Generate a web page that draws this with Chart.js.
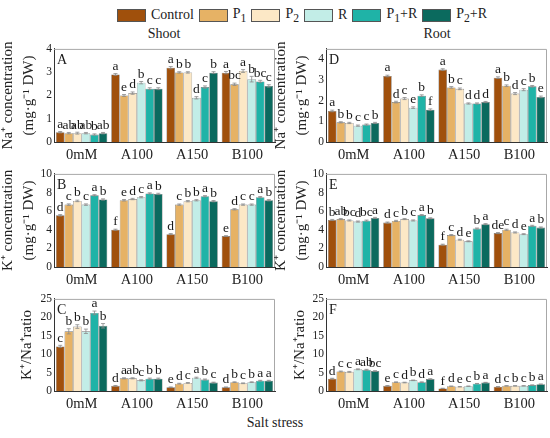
<!DOCTYPE html>
<html>
<head>
<meta charset="utf-8">
<script src="https://cdn.jsdelivr.net/npm/chart.js@4.4.1/dist/chart.umd.min.js"></script>
<style>
    body { margin: 0; background: #fff; font-family: 'Liberation Serif', serif; }
    #wrap { position: relative; width: 550px; height: 438px; overflow: hidden; }
    .panel { position: absolute; }
    .txt { position: absolute; font-size: 14px; color: #222; white-space: nowrap; transform: translateX(-50%); }
    #legend { position: absolute; left: 117px; top: 6px; display: flex; font-size: 14px; color: #222; }
    #legend .item { display: flex; align-items: center; margin-right: 5px; }
    #legend .sw { width: 29px; height: 13px; border: 1px solid #555; box-sizing: border-box; margin-right: 5px; }
</style>
</head>
<body>
<div id="wrap">
    <div id="legend"></div>
    <div class="txt" style="left:164px; top:26px;">Shoot</div>
    <div class="txt" style="left:437px; top:26px;">Root</div>
    <div class="txt" style="left:275px; top:415px;">Salt stress</div>

    <div class="panel" style="left:0; top:40px; width:280px; height:122px;"><canvas id="chartA"></canvas></div>
    <div class="panel" style="left:272px; top:40px; width:278px; height:122px;"><canvas id="chartD"></canvas></div>
    <div class="panel" style="left:0; top:165px; width:280px; height:122px;"><canvas id="chartB"></canvas></div>
    <div class="panel" style="left:272px; top:165px; width:278px; height:122px;"><canvas id="chartE"></canvas></div>
    <div class="panel" style="left:0; top:290px; width:280px; height:121px;"><canvas id="chartC"></canvas></div>
    <div class="panel" style="left:272px; top:290px; width:278px; height:121px;"><canvas id="chartF"></canvas></div>
</div>
<script>
// ---- data ----
const groups = ['0mM', 'A100', 'A150', 'B100'];
const treatments = ['Control', 'P1', 'P2', 'R', 'P1+R', 'P2+R'];
const treatmentLabels = ['Control', 'P<sub>1</sub>', 'P<sub>2</sub>', 'R', 'P<sub>1</sub>+R', 'P<sub>2</sub>+R'];
const colors = ['#a0500c', '#e6b265', '#fce8c6', '#c2ede7', '#1fb3a7', '#0b6a5e'];

// rows = treatments, columns = groups
const naShoot = [
    [0.42, 2.90, 3.19, 2.98],
    [0.38, 2.00, 2.99, 2.48],
    [0.38, 2.10, 2.99, 3.05],
    [0.38, 2.55, 1.90, 2.70],
    [0.32, 2.29, 2.36, 2.60],
    [0.38, 2.29, 2.98, 2.41]
];
const naShootErr = [
    [0.03, 0.04, 0.05, 0.05],
    [0.03, 0.04, 0.03, 0.05],
    [0.04, 0.05, 0.03, 0.06],
    [0.03, 0.05, 0.05, 0.12],
    [0.03, 0.04, 0.05, 0.05],
    [0.03, 0.04, 0.04, 0.05]
];
const naShootLetters = [
    ['a', 'a', 'a', 'a'],
    ['ab', 'e', 'b', 'bc'],
    ['ab', 'd', 'b', 'a'],
    ['ab', 'b', 'd', 'b'],
    ['b', 'c', 'c', 'bc'],
    ['ab', 'c', 'b', 'c']
];

const naRoot = [
    [1.50, 3.19, 3.50, 3.11],
    [0.95, 1.93, 2.64, 2.72],
    [0.92, 2.10, 2.57, 2.34],
    [0.79, 1.66, 1.86, 2.53],
    [0.84, 2.24, 1.86, 2.69],
    [0.92, 1.56, 1.93, 2.18]
];
const naRootErr = [
    [0.04, 0.04, 0.04, 0.04],
    [0.03, 0.04, 0.04, 0.04],
    [0.03, 0.05, 0.04, 0.05],
    [0.03, 0.04, 0.03, 0.05],
    [0.03, 0.04, 0.03, 0.04],
    [0.03, 0.04, 0.03, 0.04]
];
const naRootLetters = [
    ['a', 'a', 'a', 'a'],
    ['b', 'd', 'b', 'b'],
    ['b', 'c', 'c', 'd'],
    ['c', 'e', 'd', 'c'],
    ['c', 'b', 'd', 'b'],
    ['b', 'f', 'd', 'e']
];

const kShoot = [
    [5.55, 4.00, 3.53, 3.32],
    [6.70, 7.17, 6.70, 6.20],
    [7.10, 7.30, 7.07, 6.70],
    [6.70, 7.50, 7.17, 6.70],
    [7.70, 7.90, 7.60, 7.50],
    [7.25, 7.85, 7.07, 7.17]
];
const kShootErr = [
    [0.08, 0.06, 0.06, 0.05],
    [0.08, 0.08, 0.07, 0.07],
    [0.08, 0.07, 0.07, 0.07],
    [0.08, 0.07, 0.07, 0.07],
    [0.07, 0.07, 0.07, 0.07],
    [0.07, 0.07, 0.07, 0.07]
];
const kShootLetters = [
    ['d', 'f', 'd', 'e'],
    ['c', 'e', 'c', 'd'],
    ['b', 'd', 'b', 'c'],
    ['c', 'c', 'b', 'c'],
    ['a', 'a', 'a', 'a'],
    ['b', 'b', 'b', 'b']
];

const kRoot = [
    [5.05, 4.77, 2.40, 3.64],
    [5.15, 4.95, 3.43, 4.00],
    [5.00, 5.15, 2.93, 3.71],
    [4.88, 5.00, 2.76, 3.53],
    [4.98, 5.58, 4.13, 4.42],
    [5.27, 5.23, 4.60, 4.24]
];
const kRootErr = [
    [0.06, 0.06, 0.05, 0.06],
    [0.06, 0.06, 0.06, 0.06],
    [0.06, 0.06, 0.05, 0.06],
    [0.06, 0.06, 0.05, 0.05],
    [0.06, 0.06, 0.06, 0.06],
    [0.06, 0.06, 0.06, 0.06]
];
const kRootLetters = [
    ['b', 'd', 'f', 'de'],
    ['ab', 'c', 'c', 'c'],
    ['bc', 'b', 'd', 'd'],
    ['d', 'c', 'e', 'e'],
    ['bc', 'a', 'b', 'a'],
    ['a', 'b', 'a', 'b']
];

const ratioShoot = [
    [12.1, 1.40, 1.00, 1.00],
    [16.2, 3.45, 2.00, 2.40],
    [17.5, 3.45, 2.20, 2.10],
    [16.2, 2.90, 3.60, 2.40],
    [21.2, 3.35, 3.10, 2.80],
    [17.7, 3.35, 2.30, 2.80]
];
const ratioShootErr = [
    [0.3, 0.10, 0.10, 0.10],
    [0.7, 0.15, 0.10, 0.10],
    [0.5, 0.15, 0.10, 0.10],
    [0.6, 0.15, 0.15, 0.10],
    [0.5, 0.15, 0.15, 0.10],
    [0.6, 0.15, 0.10, 0.10]
];
const ratioShootLetters = [
    ['c', 'd', 'e', 'd'],
    ['b', 'a', 'd', 'b'],
    ['b', 'ab', 'c', 'c'],
    ['b', 'c', 'a', 'b'],
    ['a', 'b', 'b', 'a'],
    ['b', 'b', 'c', 'a']
];

const ratioRoot = [
    [3.35, 1.40, 0.70, 1.15],
    [5.30, 2.40, 1.30, 1.40],
    [5.20, 2.30, 1.15, 1.40],
    [5.90, 2.90, 1.30, 1.40],
    [5.75, 2.40, 2.00, 1.60],
    [5.40, 3.25, 2.30, 1.85]
];
const ratioRootErr = [
    [0.10, 0.08, 0.05, 0.05],
    [0.12, 0.08, 0.05, 0.05],
    [0.12, 0.08, 0.05, 0.05],
    [0.12, 0.08, 0.05, 0.05],
    [0.12, 0.08, 0.05, 0.05],
    [0.12, 0.08, 0.05, 0.05]
];
const ratioRootLetters = [
    ['d', 'e', 'f', 'd'],
    ['c', 'c', 'd', 'c'],
    ['c', 'd', 'e', 'b'],
    ['a', 'b', 'c', 'c'],
    ['ab', 'd', 'b', 'b'],
    ['bc', 'a', 'a', 'a']
];

const naTitle = ['Na\u207A concentration', '(mg\u00B7g\u207B\u00B9 DW)'];
const kTitle = ['K\u207A concentration', '(mg\u00B7g\u207B\u00B9 DW)'];
const ratioTitle = 'K\u207A/Na\u207Aratio';

const FONT = 'Liberation Serif';

// ---- legend ----
const legendEl = document.getElementById('legend');
treatments.forEach((t, i) => {
    const item = document.createElement('div');
    item.className = 'item';
    item.innerHTML = `<span class="sw" style="background:${colors[i]}"></span><span>${treatmentLabels[i]}</span>`;
    legendEl.appendChild(item);
});

// ---- plugins ----
const barExtras = {
    id: 'barExtras',
    afterDatasetsDraw(chart, args, opts) {
        const ctx = chart.ctx;
        const y = chart.scales.y;
        const area = chart.chartArea;
        ctx.save();
        // frame top/right
        ctx.strokeStyle = '#a8a8a8';
        ctx.lineWidth = 1;
        ctx.beginPath();
        ctx.moveTo(area.left, area.top + 0.5);
        ctx.lineTo(area.right - 0.5, area.top + 0.5);
        ctx.lineTo(area.right - 0.5, area.bottom);
        ctx.stroke();

        chart.data.datasets.forEach((ds, i) => {
            const meta = chart.getDatasetMeta(i);
            meta.data.forEach((bar, j) => {
                const v = ds.data[j], e = ds.err[j];
                const yTop = y.getPixelForValue(v + e);
                const yBot = y.getPixelForValue(v - e);
                ctx.strokeStyle = '#8a8a8a';
                ctx.lineWidth = 0.8;
                ctx.beginPath();
                ctx.moveTo(bar.x, yTop); ctx.lineTo(bar.x, yBot);
                ctx.moveTo(bar.x - 2, yTop); ctx.lineTo(bar.x + 2, yTop);
                ctx.moveTo(bar.x - 2, yBot); ctx.lineTo(bar.x + 2, yBot);
                ctx.stroke();
                ctx.fillStyle = '#1a1a1a';
                ctx.font = `13.5px '${FONT}'`;
                ctx.textAlign = 'center';
                ctx.textBaseline = 'bottom';
                ctx.fillText(ds.letters[j], bar.x, yTop - 0.5);
            });
        });

        // panel letter
        ctx.fillStyle = '#1a1a1a';
        ctx.font = `14px '${FONT}'`;
        ctx.textAlign = 'left';
        ctx.textBaseline = 'top';
        ctx.fillText(opts.letter || '', area.left + 3, area.top + 4);
        ctx.restore();
    }
};

function makePanel(id, letter, values, errs, letters, yMax, step, title, titlePad, rightPad) {
    const datasets = treatments.map((t, i) => ({
        label: t,
        data: values[i],
        err: errs[i],
        letters: letters[i],
        backgroundColor: colors[i],
        borderColor: 'rgba(70,70,70,0.75)',
        borderWidth: 0.6,
        categoryPercentage: 0.93,
        barPercentage: 1.0
    }));
    return new Chart(document.getElementById(id), {
        type: 'bar',
        data: { labels: groups, datasets: datasets },
        options: {
            responsive: true,
            maintainAspectRatio: false,
            animation: false,
            layout: { padding: { top: 7, right: rightPad, left: 0, bottom: 0 } },
            plugins: {
                legend: { display: false },
                tooltip: { enabled: false },
                barExtras: { letter: letter }
            },
            scales: {
                x: {
                    grid: { display: false, drawTicks: false },
                    border: { color: '#333', width: 1 },
                    ticks: { font: { family: FONT, size: 14.5 }, color: '#222', padding: 4 },
                    afterFit: (s) => { s.height = 20; }
                },
                y: {
                    min: 0,
                    max: yMax,
                    grid: { display: false, drawTicks: false },
                    border: { color: '#333', width: 1 },
                    ticks: { stepSize: step, includeBounds: false, font: { family: FONT, size: 11.5 }, color: '#222', padding: 2 },
                    title: {
                        display: true,
                        text: title,
                        font: { family: FONT, size: 15, lineHeight: 1.4 },
                        color: '#222',
                        padding: { top: titlePad, bottom: 0 }
                    },
                    afterFit: (s) => { s.width = 54; }
                }
            }
        },
        plugins: [barExtras]
    });
}

makePanel('chartA', 'A', naShoot, naShootErr, naShootLetters, 4, 1, naTitle, -2, 5);
makePanel('chartD', 'D', naRoot, naRootErr, naRootLetters, 4.5, 1, naTitle, -1, 3);
makePanel('chartB', 'B', kShoot, kShootErr, kShootLetters, 10, 2, kTitle, -2, 5);
makePanel('chartE', 'E', kRoot, kRootErr, kRootLetters, 10, 2, kTitle, -1, 3);
makePanel('chartC', 'C', ratioShoot, ratioShootErr, ratioShootLetters, 25, 5, ratioTitle, 17, 5);
makePanel('chartF', 'F', ratioRoot, ratioRootErr, ratioRootLetters, 25, 5, ratioTitle, 18, 3);
</script>
</body>
</html>
